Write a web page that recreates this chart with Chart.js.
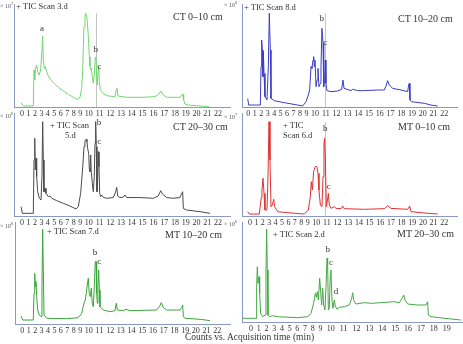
<!DOCTYPE html>
<html><head><meta charset="utf-8">
<script src="https://cdn.jsdelivr.net/npm/chart.js@4/dist/chart.umd.min.js"></script>
<style>
html,body{margin:0;padding:0;background:#fff;}
body{width:463px;height:344px;position:relative;overflow:hidden;font-family:"Liberation Serif",serif;color:#333;}
canvas{position:absolute;}
.t{position:absolute;white-space:nowrap;line-height:1;color:#333;}
.m{font-size:6px;color:#555;}
.m sup{font-size:4.5px;}
.s{font-size:8.5px;}
.h{font-size:10px;}
</style></head><body>

<script>
// ---------- DATA (time in min, signal in % of panel full scale) ----------
const ticksA = [0,1,2,3,4,5,6,7,8,9,10,11,12,13,14,15,16,17,18,19,20,21,22];
const ticksB = [0,1,2,3,4,5,6,7,8,9,10,11,12,13,14,15,16,17,18,19];

const ct010Time = [-0.15,0.2,1.75,1.86,1.97,2.06,2.27,2.43,2.63,2.89,3.09,3.2,3.3,3.45,3.61,3.82,4.07,4.6,5.11,5.62,6.39,7.17,7.94,8.56,8.98,9.18,9.3,9.37,9.45,9.56,9.64,9.76,9.83,9.95,10.05,10.11,10.18,10.23,10.33,10.42,10.51,10.61,10.67,10.74,10.79,10.86,10.92,10.98,11.07,11.23,11.42,11.82,12.44,12.56,12.62,12.71,13.52,14.76,16.15,16.49,16.71,16.92,17.24,18.47,18.66,18.75,18.81,18.94,19.24,20.33,21.2];
const ct010Signal = [4.2,1,1,35.9,26.2,36.6,40.8,34.3,31,35.9,55.3,68.9,45.6,37.5,39.2,34.3,30.1,25.2,22,19.1,15.5,12.3,9.4,7.4,9.4,18.1,35.9,58.6,78,89.3,91,88.3,82.8,68.3,48.9,39.2,35.9,37.5,29.4,23,31,48.2,47.2,27.8,21.4,34.3,39.8,24.6,16.5,14.9,12.3,10.7,10,17.2,18.1,10.7,9.4,9.4,10,12.3,15.5,11.7,9.4,9.4,11.7,12.6,6.8,2.9,1.9,1,0.3];

const ct1020Time = [-0.09,0.06,1.86,1.97,2.07,2.17,2.27,2.33,2.43,2.58,2.89,3.1,3.25,3.41,3.51,4.03,5.58,7.64,8.41,8.93,9.22,9.37,9.53,9.64,9.76,9.84,9.91,9.99,10.09,10.18,10.27,10.36,10.49,10.55,10.64,10.74,10.8,10.89,10.95,11.01,11.1,11.48,12.1,12.47,12.59,12.69,13.34,13.49,13.96,14.57,15.81,16.43,16.59,16.74,16.89,17.2,17.98,18.6,18.69,18.75,18.81,18.97,20.14,20.76,21.38];
const ct1020Signal = [8.1,1.9,1.9,39.2,65,55.3,29.4,53.7,32.7,10,6.8,39.2,91,55.3,8.4,6.1,4.2,1.9,1,5.1,11.7,16.5,39.2,37.5,45.6,48.9,39.2,45.6,19.7,26.2,37.5,19.7,23,39.2,76.4,61.8,19.7,26.2,45.6,23,15.9,14.9,15.5,17.2,26.2,18.1,15.9,17.2,15.9,15.9,16.5,16.5,20.4,25.6,21.4,18.1,16.5,14.9,21.4,23,6.8,5.1,3.6,1.9,1];

const ct2030Time = [-0.15,0.05,1.75,1.86,1.97,2.06,2.17,2.27,2.43,2.68,2.94,3.09,3.2,3.3,3.4,3.56,3.71,4.07,4.33,4.6,5.37,6.39,7.43,8.36,8.71,9.06,9.3,9.45,9.56,9.68,9.79,9.87,9.99,10.05,10.11,10.18,10.23,10.33,10.42,10.51,10.58,10.64,10.7,10.76,10.83,10.89,10.95,11.01,11.1,11.2,11.35,11.66,12.28,12.5,12.59,12.69,12.9,13.21,13.37,13.52,14.76,15.99,16.45,16.68,16.83,17.24,17.85,18.47,18.63,18.72,18.78,19.09,20.33,21.26];
const ct2030Signal = [9,2.6,2.6,54.4,75.4,44.7,56,38.2,23.6,17.2,15.5,38.2,91.6,54.4,23.6,26.9,22,18.8,19.4,17.2,14.9,12.3,9.7,6.8,9,22,47.9,67.3,73.1,74.4,72.1,65.7,60.8,46.3,43,59.2,43,31.7,23.6,38.2,70.6,91.6,67.3,23.6,38.2,62.4,47.9,22,18.8,20.4,18.1,17.2,17.9,23.6,27.8,19.4,17.9,18.4,20.4,17.9,17.9,17.2,19.4,24.6,21.4,17.9,17.2,17.9,22,23.6,7.4,5.8,4.2,2.6];

const mt010Time = [-0.36,-0.1,1.46,1.61,1.77,1.87,2.03,2.19,2.34,2.65,2.81,2.97,3.12,3.28,3.49,3.7,3.85,4.32,5.88,8.48,9.08,9.31,9.43,9.55,9.7,9.86,9.98,10.08,10.17,10.26,10.39,10.54,10.64,10.73,10.79,10.86,10.95,11.04,11.14,11.23,11.39,11.7,11.86,12.33,12.48,12.64,14.51,16.38,16.7,17.01,18.57,18.76,18.88,19.82,21.38];
const mt010Signal = [4.2,1.9,1.9,10.7,18.1,25.2,36.6,22,5.8,5.8,38.2,91.6,54.4,9,10.7,16.2,9,4.2,3.2,1.9,5.8,18.7,33.3,25.2,43,47.3,48.5,47.3,41.4,25.2,10.7,9,38.2,70.6,75.4,54.4,9,13.9,22,10.7,7.4,9,7.4,7.1,9.7,7.1,6.5,7.1,10,7.4,6.5,9.7,4.2,3.2,1.9];

const mt1020Time = [-0.2,0.06,1.71,1.82,1.93,2.02,2.13,2.24,2.4,2.64,2.96,3.06,3.17,3.27,3.38,3.8,6.91,8.71,9.18,9.45,9.6,9.71,9.83,9.95,10.05,10.15,10.24,10.33,10.43,10.52,10.61,10.68,10.74,10.8,10.86,10.93,10.99,11.05,11.21,11.36,11.98,12.45,12.57,12.67,13.23,13.48,13.85,16.34,16.6,16.77,16.96,17.28,18.52,18.68,18.77,18.83,18.99,20.39,21.32];
const mt1020Signal = [7.8,3.9,3.9,30.1,49.7,36.6,41.5,26.8,13.7,8.8,7.2,36.6,92.8,52.9,8.8,5.6,5.2,6.2,10.5,20.3,23.5,30.1,38.2,44.8,30.1,26.8,35,20.3,17,36.6,61.1,61.1,30.1,20.3,36.6,52.9,33.3,17,15.4,13.7,12.1,13.1,20.3,13.7,13.1,14.4,13.1,13.7,17,20.9,16.3,13.7,13.7,16.3,18.6,7.2,5.6,4.6,3.3];

const mt2030Time = [-1.17,-1.04,0.65,0.73,0.82,0.91,1.04,1.12,1.25,1.51,1.86,1.94,2.03,2.11,2.2,2.37,2.8,3.45,6.04,7.34,7.77,8.11,8.33,8.46,8.59,8.72,8.89,9.01,9.11,9.21,9.31,9.43,9.53,9.63,9.69,9.76,9.85,9.95,10.01,10.09,10.17,10.27,10.35,10.48,10.66,11.05,11.44,11.62,11.7,11.77,11.95,12.6,13.12,13.9,14.93,15.32,15.53,15.66,15.76,15.97,16.75,17.39,17.52,17.57,17.78,18.82,20.11];
const mt2030Signal = [5.3,3.7,3.7,35.3,55.3,38.7,45.3,28.7,8.7,5.3,7,52,92.7,52,7,5.3,6.3,5.3,4.3,5.3,8.7,18.7,28.7,24.7,30.3,22,43.7,30.3,17,33.7,17,12,35.3,63.7,57,12,13.7,48.7,52,22,13.7,22,16,12.7,14.7,15.3,17,23.7,29.3,22,18,19.3,18.7,19.3,20.3,19.3,23.7,27,22,18,17,17,20.3,7,5.3,3.7,2];

// ---------- a linear scale whose tick spacing follows the printed label widths ----------
class PrintScale extends Chart.LinearScale {
  warp(v) {                       // 1-digit labels narrow, 2-digit labels wide
    if (v <= 9) return v;
    if (v <= 10) return 9 + (v - 9) * 4 / 3;
    return 9 + 4 / 3 + (v - 10) * 5 / 3;
  }
  getPixelForValue(v) {
    const o = this.options;
    const a = this.left + o.startOffset, b = this.right - o.endOffset;
    const w0 = this.warp(0), w1 = this.warp(o.lastTick);
    return a + (this.warp(v) - w0) / (w1 - w0) * (b - a);
  }
  getValueForPixel(p) {
    let lo = -5, hi = 30;
    for (let i = 0; i < 40; i++) { const m = (lo + hi) / 2; if (this.getPixelForValue(m) < p) lo = m; else hi = m; }
    return (lo + hi) / 2;
  }
}
PrintScale.id = 'print';
PrintScale.defaults = Chart.LinearScale.defaults;
Chart.register(PrintScale);

// ---------- LAYOUT / STYLE ----------
const axisColor = '#8799c4';
const panels = [
  {time:ct010Time, sig:ct010Signal, ticks:ticksA, color:'#72d672', axisX:14, top:4, axisY:107, right:231, p0:22, pN:218,
   marks:[{t:'a',x:3.09,y:75.7},{t:'b',x:10.64,y:55.3},{t:'c',x:10.98,y:39.1}], vline:10.64},
  {time:ct1020Time, sig:ct1020Signal, ticks:ticksA, color:'#3c3cc4', axisX:242, top:4, axisY:107, right:458, p0:248.3, pN:444.3,
   marks:[{t:'b',x:10.61,y:85.4},{t:'c',x:10.95,y:62.4}], vline:10.95},
  {time:ct2030Time, sig:ct2030Signal, ticks:ticksA, color:'#4a4a4a', axisX:14, top:113, axisY:216, right:231, p0:22, pN:218,
   marks:[{t:'b',x:10.95,y:90.3},{t:'c',x:10.98,y:71.8}], vline:null},
  {time:mt010Time, sig:mt010Signal, ticks:ticksA, color:'#e03030', axisX:242, top:113, axisY:216, right:458, p0:250, pN:444.3,
   marks:[{t:'b',x:10.85,y:84.5},{t:'c',x:11.17,y:28.2}], vline:10.85},
  {time:mt1020Time, sig:mt1020Signal, ticks:ticksA, color:'#3aa53a', axisX:15, top:222, axisY:324, right:231, p0:22.3, pN:217.3,
   marks:[{t:'b',x:10.58,y:69.6},{t:'c',x:10.99,y:60.8}], vline:null},
  {time:mt2030Time, sig:mt2030Signal, ticks:ticksB, color:'#45a845', axisX:242, top:222, axisY:322, right:463, p0:251, pN:446.7,
   marks:[{t:'b',x:9.7,y:72},{t:'c',x:10.01,y:59},{t:'d',x:10.4,y:30}], vline:null}
];

const XH = 12;
const markPlugin = {
  id:'marks',
  beforeDatasetsDraw(chart){
    const p = chart.options.plugins.marks;
    if (p.vline == null) return;
    const ctx = chart.ctx, xs = chart.scales.x, ys = chart.scales.y;
    const x = Math.round(xs.getPixelForValue(p.vline)) + 0.5;
    ctx.save(); ctx.strokeStyle = '#c4c4c4'; ctx.lineWidth = 1;
    ctx.beginPath(); ctx.moveTo(x, ys.getPixelForValue(91)); ctx.lineTo(x, chart.chartArea.bottom); ctx.stroke(); ctx.restore();
  },
  afterDatasetsDraw(chart){
    const p = chart.options.plugins.marks;
    const ctx = chart.ctx, xs = chart.scales.x, ys = chart.scales.y;
    ctx.save(); ctx.fillStyle = '#333'; ctx.font = '9px "Liberation Serif", serif';
    ctx.textAlign = 'center'; ctx.textBaseline = 'middle';
    p.marks.forEach(m => ctx.fillText(m.t, xs.getPixelForValue(m.x), ys.getPixelForValue(m.y)));
    ctx.restore();
  }
};

panels.forEach(p => {
  const cv = document.createElement('canvas');
  const left = p.axisX - 1;
  const w = p.right - left, h = p.axisY - p.top + XH;
  cv.width = w; cv.height = h;
  cv.style.left = left + 'px'; cv.style.top = p.top + 'px';
  cv.style.width = w + 'px'; cv.style.height = h + 'px';
  document.body.appendChild(cv);
  const last = p.ticks[p.ticks.length - 1];
  new Chart(cv, {
    type:'line',
    data:{datasets:[{data:p.time.map((t,i)=>({x:t,y:p.sig[i]})), borderColor:p.color, borderWidth:1, pointRadius:0, tension:0, fill:false}]},
    options:{
      responsive:false, animation:false, devicePixelRatio:1,
      layout:{padding:{left:1,right:0,top:0,bottom:0}},
      plugins:{legend:{display:false}, tooltip:{enabled:false}, marks:{marks:p.marks, vline:p.vline}},
      scales:{
        x:{type:'print', min:-2, max:last + 2, lastTick:last,
           startOffset:p.p0 - p.axisX, endOffset:p.right - p.pN,
           afterFit:s=>{s.height = XH;},
           afterBuildTicks:s=>{s.ticks = p.ticks.map(v=>({value:v}));},
           grid:{display:false, drawTicks:false},
           border:{display:true, color:axisColor, width:1},
           ticks:{autoSkip:false, maxRotation:0, minRotation:0, padding:2, color:'#333',
                  font:{family:'"Liberation Serif", serif', size:8}, callback:v=>String(v)}},
        y:{min:0, max:100, afterFit:s=>{s.width = 0;},
           grid:{display:false, drawTicks:false},
           border:{display:true, color:axisColor, width:1},
           ticks:{display:false}}
      }
    },
    plugins:[markPlugin]
  });
});

// ---------- static text ----------
const texts = [
  ['m',0,2,'× 10<sup>7</sup>'], ['s',16,2,'+ TIC Scan 3.d'], ['h',173,12,'CT 0–10 cm'],
  ['m',224,1,'× 10<sup>6</sup>'], ['s',244,3,'+ TIC Scan 8.d'], ['h',398,14,'CT 10–20 cm'],
  ['m',0,112,'× 10<sup>6</sup>'], ['s',50,121,'+ TIC Scan'], ['s',65,131,'5.d'], ['h',173,122,'CT 20–30 cm'],
  ['m',224,113,'× 10<sup>7</sup>'], ['s',283,121,'+ TIC'], ['s',283,131,'Scan 6.d'], ['h',398,122,'MT 0–10 cm'],
  ['m',0,222,'× 10<sup>6</sup>'], ['s',47,227,'+ TIC Scan 7.d'], ['h',165,230,'MT 10–20 cm'],
  ['m',224,220,'× 10<sup>6</sup>'], ['s',273,230,'+ TIC Scan 2.d'], ['h',397,229,'MT 20–30 cm']
];
texts.forEach(([c,x,y,s]) => {
  const d = document.createElement('div');
  d.className = 't ' + c; d.style.left = x + 'px'; d.style.top = y + 'px'; d.innerHTML = s;
  document.body.appendChild(d);
});
const at = document.createElement('div');
at.className = 't'; at.style.left = '185px'; at.style.top = '333px'; at.style.fontSize = '9.5px';
at.textContent = 'Counts vs. Acquisition time (min)';
document.body.appendChild(at);
</script>
</body></html>
